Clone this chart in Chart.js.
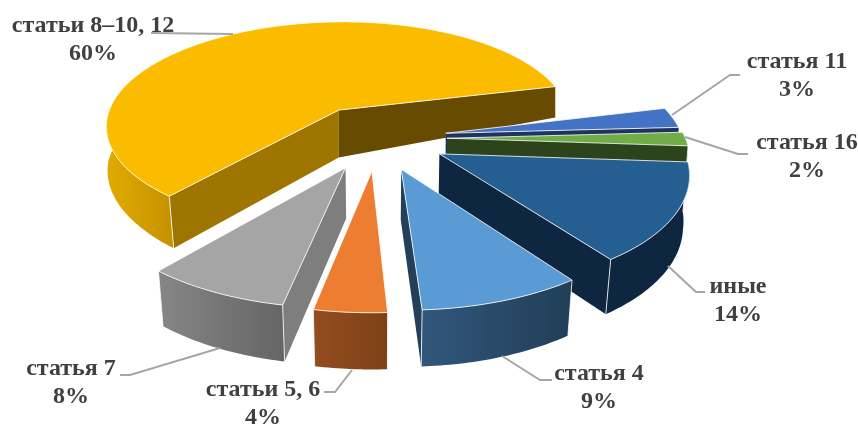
<!DOCTYPE html>
<html>
<head>
<meta charset="utf-8">
<style>
  body { margin: 0; background: #fff; }
  canvas { display: block; }
</style>
<script src="https://cdn.jsdelivr.net/npm/chart.js@4"></script>
</head>
<body>
<canvas id="myChart" width="858" height="424"></canvas>
<script>
const categories = ['статья 11', 'статья 16', 'иные', 'статья 4', 'статьи 5, 6', 'статья 7', 'статьи 8–10, 12'];
const shares = [3, 2, 14, 9, 4, 8, 60];
const topColors = ['#4472c4', '#70ad47', '#255e91', '#5b9bd5', '#ed7d31', '#a5a5a5', '#fbbc00'];
const faceColors = ['#1e3360', '#2c431c', '#0f2640', '#234058', '#7f4218', '#7e7e7e', '#664b00'];
const faceColorsLeft = ['#1e3360', '#2c431c', '#0f2640', '#234058', '#7f4218', '#7e7e7e', '#9e7500'];
const rimLeft = ['#1e3360', '#2c431c', '#0f2640', '#31577c', '#934d1f', '#868686', '#e3ab00'];
const rimRight = ['#1e3360', '#2c431c', '#0f2640', '#213e57', '#7d4117', '#656565', '#c39100'];
const explode = [70, 70, 70, 70, 70, 70, 75];
const rimScale = [0.98, 0.985, 0.995, 1, 1, 1, 0.984];

// where the labels sit: centre x, first baseline
const labelPos = [[797, 68], [807, 149], [738, 293], [599, 380], [263, 396], [71, 375], [93, 32]];
const leaders = [
  [[672, 115], [730, 75], [740, 75]],
  [[685, 137], [738, 154], [748, 154]],
  [[668, 266], [696, 292], [705, 292]],
  [[502, 356], [540, 380], [552, 380]],
  [[352, 370], [335, 392], [324, 392]],
  [[220, 348], [130, 375], [120, 375]],
  [[151, 33], [233, 34]]
];

const TILT = 0.455;      // how flat the disc looks
const PERSP = 0.146;     // nearer points get bigger

// lower edge converges towards the centre, more so near the viewer
function shrinkAt(Y) {
  return 1 - 0.021 * Math.min(1, Math.max(0, (Y + 0.25) / 0.6));
}

function depthAt(X, Y) {
  return 49 + 6 * Y - 38 * Math.max(0, X) * Math.max(0, -Y);
}

const pie3d = {
  id: 'pie3d',
  beforeDatasetsDraw(chart) {
    const ctx = chart.ctx;
    const meta = chart.getDatasetMeta(0);
    const cx = meta.data[0].x, cy = meta.data[0].y, R = meta.data[0].outerRadius;

    const top = (X, Y) => {
      const s = 1 / (1 - PERSP * Y);
      return { x: cx + R * X * s, y: cy + TILT * R * Y * s };
    };
    const bottom = (X, Y) => {
      const p = top(X, Y);
      return { x: cx + (p.x - cx) * shrinkAt(Y), y: p.y + depthAt(X, Y) };
    };
    const poly = (pts) => {
      ctx.beginPath();
      pts.forEach((p, i) => i ? ctx.lineTo(p.x, p.y) : ctx.moveTo(p.x, p.y));
      ctx.closePath();
    };

    const slices = meta.data.map((el, i) => {
      const mid = (el.startAngle + el.endAngle) / 2;
      const e = el.options.offset / R;
      return { i, a: el.startAngle, b: el.endAngle, ox: e * Math.cos(mid), oy: e * Math.sin(mid) };
    }).sort((p, q) => p.oy - q.oy);

    ctx.save();
    ctx.lineJoin = 'round';
    slices.forEach(sl => {
      const r = rimScale[sl.i];
      const rimPoint = (t) => [sl.ox + r * Math.cos(t), sl.oy + r * Math.sin(t)];
      const apex = [sl.ox, sl.oy];
      const edge = 'rgba(255,255,255,0.8)';

      // cut faces that look at the viewer
      [[sl.a, Math.cos(sl.a) < 0, faceColorsLeft[sl.i]], [sl.b, Math.cos(sl.b) > 0, faceColors[sl.i]]].forEach(([t, visible, col]) => {
        if (!visible) return;
        const P = rimPoint(t);
        ctx.fillStyle = col;
        poly([top(...apex), top(...P), bottom(...P), bottom(...apex)]);
        ctx.fill();
      });

      // outer wall, front half only (runs on a little at the far left so the silhouette closes)
      let from = Infinity, to = -Infinity;
      const rimTop = [], rimBot = [];
      const n = Math.max(4, Math.ceil((sl.b - sl.a) * 60));
      for (let k = 0; k <= n; k++) {
        const t = sl.a + (sl.b - sl.a) * k / n;
        if (Math.sin(t) < (Math.cos(t) < 0 ? -0.3 : 0)) continue;
        const P = rimPoint(t);
        rimTop.push(top(...P));
        rimBot.unshift(bottom(...P));
      }
      if (rimTop.length > 1) {
        rimTop.concat(rimBot).forEach(p => { from = Math.min(from, p.x); to = Math.max(to, p.x); });
        const g = ctx.createLinearGradient(from, 0, to, 0);
        g.addColorStop(0, rimLeft[sl.i]);
        g.addColorStop(1, rimRight[sl.i]);
        ctx.fillStyle = g;
        poly(rimTop.concat(rimBot));
        ctx.fill();
      }

      // thin light line on the corners
      ctx.strokeStyle = edge;
      ctx.lineWidth = 1;
      [sl.a, sl.b].forEach(t => {
        if (Math.sin(t) <= 0) return;
        const P = rimPoint(t), u = top(...P), v = bottom(...P);
        ctx.beginPath();
        ctx.moveTo(u.x, u.y);
        ctx.lineTo(v.x, v.y);
        ctx.stroke();
      });

      // top of the slice
      const pts = [top(...apex)];
      for (let k = 0; k <= n; k++) {
        pts.push(top(...rimPoint(sl.a + (sl.b - sl.a) * k / n)));
      }
      ctx.fillStyle = topColors[sl.i];
      poly(pts);
      ctx.fill();
      ctx.stroke();
    });
    ctx.restore();
    return false; // the flat pie is replaced by the drawing above
  },
  afterDraw(chart) {
    const ctx = chart.ctx;
    ctx.save();
    ctx.strokeStyle = '#a6a6a6';
    ctx.lineWidth = 2;
    leaders.forEach(line => {
      ctx.beginPath();
      line.forEach((p, i) => i ? ctx.lineTo(p[0], p[1]) : ctx.moveTo(p[0], p[1]));
      ctx.stroke();
    });
    ctx.fillStyle = '#404040';
    ctx.font = 'bold 24px "Liberation Serif"';
    ctx.textAlign = 'center';
    categories.forEach((name, i) => {
      ctx.fillText(name, labelPos[i][0], labelPos[i][1]);
      ctx.fillText(shares[i] + '%', labelPos[i][0], labelPos[i][1] + 28);
    });
    ctx.restore();
  }
};

new Chart(document.getElementById('myChart'), {
  type: 'pie',
  data: {
    labels: categories,
    datasets: [{
      data: shares,
      backgroundColor: topColors,
      offset: explode,
      borderWidth: 0
    }]
  },
  options: {
    responsive: false,
    animation: false,
    rotation: 76,
    radius: 242,
    layout: { padding: { right: 104, bottom: 148 } },
    plugins: { legend: { display: false }, tooltip: { enabled: false } }
  },
  plugins: [pie3d]
});
</script>
</body>
</html>
